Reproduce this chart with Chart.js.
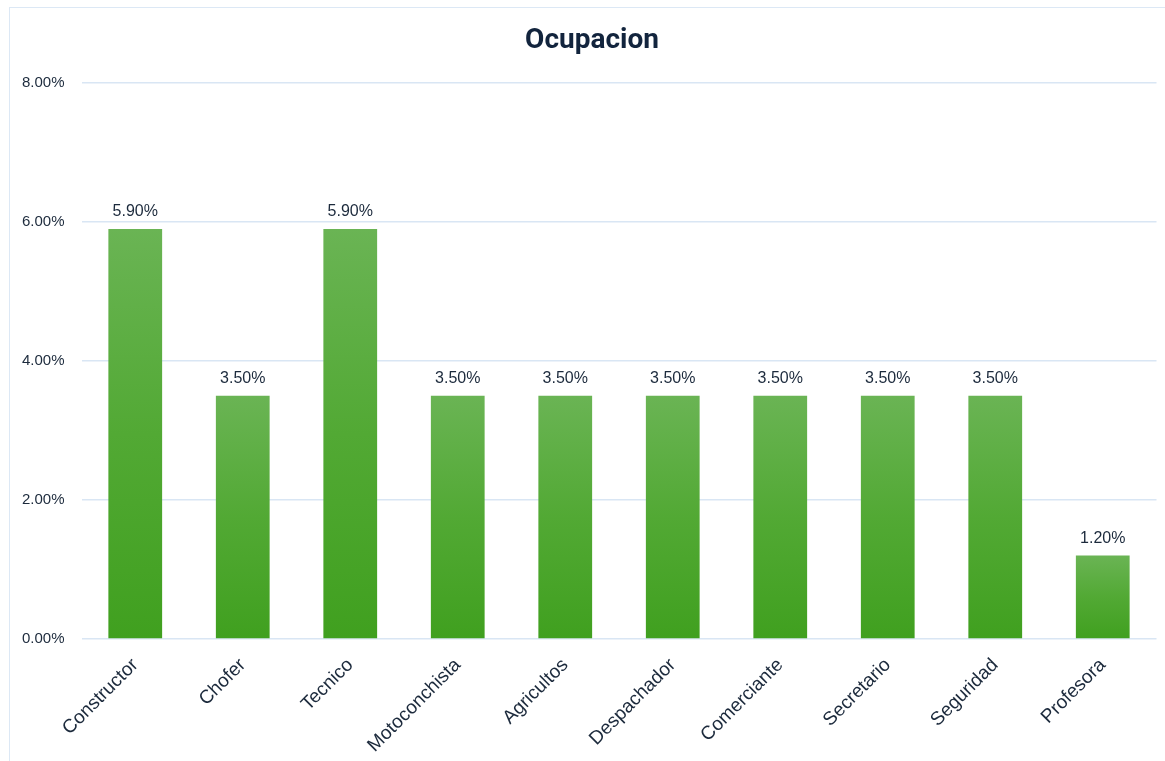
<!DOCTYPE html>
<html>
<head>
<meta charset="utf-8">
<script src="https://cdn.jsdelivr.net/npm/chart.js@4"></script>
<style>
  html, body { margin: 0; padding: 0; background: #ffffff; }
  #wrap { position: relative; width: 1165px; height: 761px; overflow: hidden; }
  #frame { position: absolute; left: 9px; top: 7px; width: 1200px; height: 800px; border: 1.5px solid #dce8f5; box-sizing: border-box; }
  canvas { position: absolute; left: 0; top: 0; }
</style>
</head>
<body>
<div id="wrap">
  <div id="frame"></div>
  <canvas id="c" width="1165" height="761"></canvas>
</div>
<script>
const categories = ["Constructor", "Chofer", "Tecnico", "Motoconchista", "Agricultos", "Despachador", "Comerciante", "Secretario", "Seguridad", "Profesora"];
const values = [5.9, 3.5, 5.9, 3.5, 3.5, 3.5, 3.5, 3.5, 3.5, 1.2];
const yTicks = [0, 2, 4, 6, 8];
const chartTitle = "Ocupacion";

const textColor = "#1c2a3c";
const gridColor = "#d9e6f4";

function barGradient(ctx) {
  const chart = ctx.chart;
  if (!chart.chartArea || ctx.dataIndex === undefined) return "#55a83a";
  const ys = chart.scales.y;
  const top = ys.getPixelForValue(ctx.dataset.data[ctx.dataIndex]);
  const bottom = ys.getPixelForValue(0);
  if (!isFinite(top) || !isFinite(bottom) || top === bottom) return "#55a83a";
  const g = chart.ctx.createLinearGradient(0, top, 0, bottom);
  g.addColorStop(0, "#6ab454");
  g.addColorStop(0.5, "#52a934");
  g.addColorStop(1, "#40a01f");
  return g;
}

const valueLabels = {
  id: "valueLabels",
  afterDatasetsDraw(chart) {
    const c = chart.ctx;
    const meta = chart.getDatasetMeta(0);
    c.save();
    c.font = "16px 'Liberation Sans', Arial, sans-serif";
    c.fillStyle = textColor;
    c.textAlign = "center";
    c.textBaseline = "middle";
    meta.data.forEach((bar, i) => {
      c.fillText(values[i].toFixed(2) + "%", bar.x, bar.y - 17);
    });
    c.restore();
  }
};

const titleDraw = {
  id: "titleDraw",
  afterDraw(chart) {
    const c = chart.ctx;
    c.save();
    c.font = "bold 28px Roboto, 'Liberation Sans', sans-serif";
    c.fillStyle = "#12243d";
    c.textAlign = "center";
    c.textBaseline = "middle";
    c.fillText(chartTitle, 592, 41);
    c.restore();
  }
};

new Chart(document.getElementById("c"), {
  type: "bar",
  data: {
    labels: categories,
    datasets: [{
      data: values,
      backgroundColor: barGradient,
      borderWidth: 0,
      barPercentage: 0.5,
      categoryPercentage: 1.0
    }]
  },
  options: {
    responsive: false,
    animation: false,
    devicePixelRatio: 1,
    layout: { padding: { left: 0, right: 8.5, top: 83, bottom: 0 } },
    plugins: {
      legend: { display: false },
      tooltip: { enabled: false },
      title: { display: false }
    },
    scales: {
      x: {
        grid: { display: false, drawTicks: false },
        border: { display: false },
        ticks: {
          color: textColor,
          font: { family: "'Liberation Sans', Arial, sans-serif", size: 19 },
          minRotation: 45,
          maxRotation: 45,
          padding: 15,
          autoSkip: false
        },
        afterFit(scale) { scale.height = 122; }
      },
      y: {
        min: 0,
        max: 8,
        afterBuildTicks(scale) { scale.ticks = yTicks.map(v => ({ value: v })); },
        grid: { color: gridColor, lineWidth: 1.5, drawTicks: false },
        border: { display: false },
        ticks: {
          color: textColor,
          font: { family: "'Liberation Sans', Arial, sans-serif", size: 15 },
          padding: 17,
          callback: v => Number(v).toFixed(2) + "%"
        },
        afterFit(scale) { scale.width = 81.5; }
      }
    }
  },
  plugins: [valueLabels, titleDraw]
});
</script>
</body>
</html>
